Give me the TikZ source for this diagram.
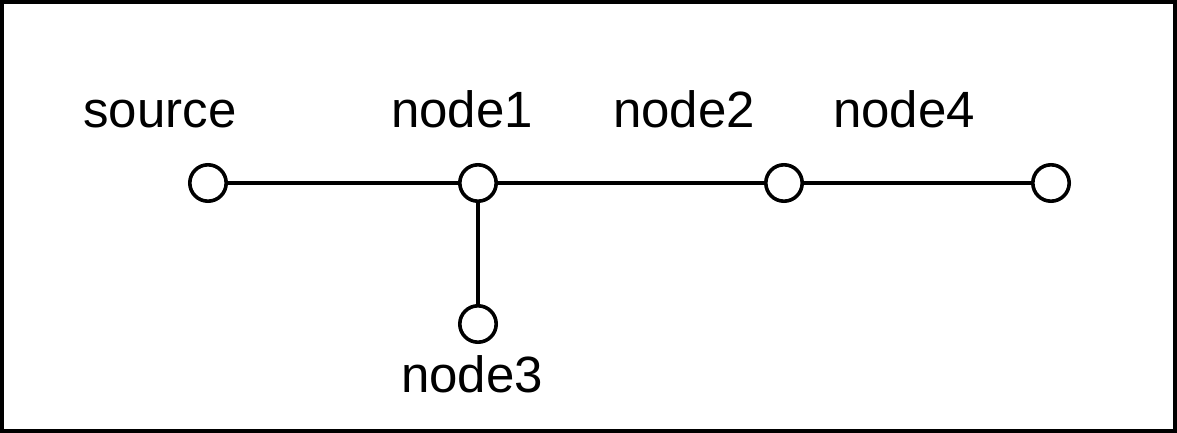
\documentclass[tikz,border=0pt]{standalone}
\usepackage{fontspec}
\setmainfont{Liberation Sans}
\usetikzlibrary{positioning}
\tikzstyle{vertex}=[draw, circle, line width=1.8pt, minimum size=18.2pt, inner sep=0pt]
\tikzstyle{link}=[line width=1.8pt]
\tikzstyle{nodetext}=[anchor=base, inner sep=0pt, font=\fontsize{25.5}{30}\selectfont]
\begin{document}
\begin{tikzpicture}[x=0.5pt, y=-0.5pt]
    \useasboundingbox (0, 0) rectangle (1177, 433);
    \draw[line width=1.8pt] (2, 2) rectangle (1175, 431);
    \node[vertex] (source) at (208, 183) {};
    \node[vertex] (node1) at (478, 183) {};
    \node[vertex] (node2) at (784, 183) {};
    \node[vertex] (node4) at (1051, 183) {};
    \node[vertex] (node3) at (478, 324) {};
    \node[nodetext] (t0) at (160, 127) {source};
    \node[nodetext] (t1) at (462, 127) {node1};
    \node[nodetext] (t2) at (684, 127) {node2};
    \node[nodetext] (t4) at (904, 127) {node4};
    \node[nodetext] (t3) at (472, 392) {node3};
    \draw[link] (source) -- (node1);
    \draw[link] (node1) -- (node2);
    \draw[link] (node2) -- (node4);
    \draw[link] (node1) -- (node3);
  \end{tikzpicture}
\end{document}
